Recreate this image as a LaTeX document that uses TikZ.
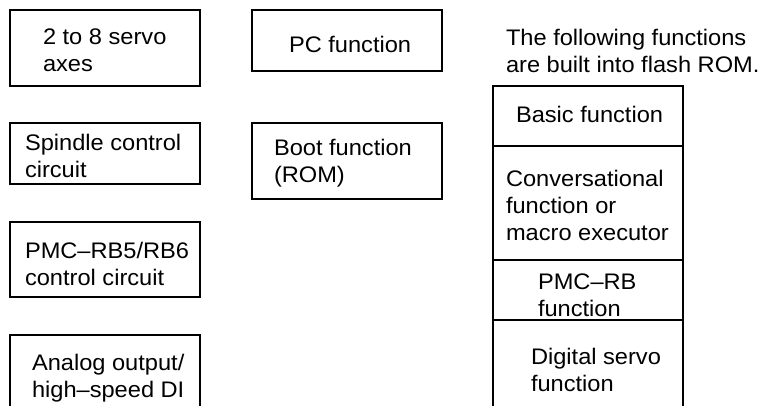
\documentclass[tikz,border=0pt]{standalone}
\usepackage{fontspec}
\setmainfont{Liberation Sans}[FakeStretch=1.05]
\begin{document}
\begin{tikzpicture}[x=1pt,y=-1pt,
  box/.style={draw, line width=1.2pt, anchor=north west, inner sep=0pt, outer sep=0pt, minimum width=190pt},
  txt/.style={anchor=base west, inner sep=0pt, outer sep=0pt, font=\fontsize{22.5}{27}\selectfont}]
\useasboundingbox (0,0) rectangle (767,405);
\clip (0,0) rectangle (767,405);
% left column
\node[box, minimum height=76pt] (servo) at (10,10) {};
\node[box, minimum height=61pt] (spindle) at (10,123) {};
\node[box, minimum height=75pt] (pmc) at (10,222) {};
\node[box, minimum height=85pt] (analog) at (10,335) {};
% middle column
\node[box, minimum height=61pt] (pc) at (252,10) {};
\node[box, minimum height=76pt] (boot) at (252,123) {};
% right stack
\node[box, minimum height=60pt] (basic) at (493,86) {};
\node[box, minimum height=114pt] (conv) at (493,146) {};
\node[box, minimum height=60pt] (pmcrb) at (493,260) {};
\node[box, minimum height=95pt] (digital) at (493,320) {};
% texts
\node[txt] (servoT) at (43,44.3) {\begin{tabular}[t]{@{}l@{}}2 to 8 servo\\axes\end{tabular}};
\node[txt] (spindleT) at (25,150) {\begin{tabular}[t]{@{}l@{}}Spindle control\\circuit\end{tabular}};
\node[txt] (pmcT) at (25,258) {\begin{tabular}[t]{@{}l@{}}PMC–RB5/RB6\\control circuit\end{tabular}};
\node[txt] (analogT) at (32,370) {\begin{tabular}[t]{@{}l@{}}Analog output/\\high–speed DI\end{tabular}};
\node[txt] (pcT) at (289,52) {PC function};
\node[txt] (bootT) at (274,155) {\begin{tabular}[t]{@{}l@{}}Boot function\\(ROM)\end{tabular}};
\node[txt] (noteT) at (506,45) {\begin{tabular}[t]{@{}l@{}}The following functions\\are built into flash ROM.\end{tabular}};
\node[txt] (basicT) at (516,122) {Basic function};
\node[txt] (convT) at (506,186) {\begin{tabular}[t]{@{}l@{}}Conversational\\function or\\macro executor\end{tabular}};
\node[txt] (pmcrbT) at (538,289) {\begin{tabular}[t]{@{}l@{}}PMC–RB\\function\end{tabular}};
\node[txt] (digitalT) at (531,364) {\begin{tabular}[t]{@{}l@{}}Digital servo\\function\end{tabular}};
\end{tikzpicture}
\end{document}
